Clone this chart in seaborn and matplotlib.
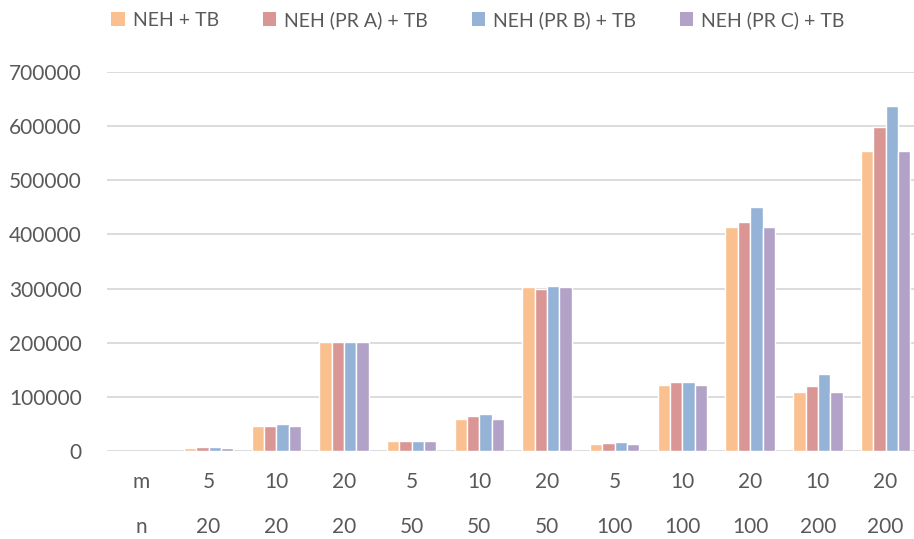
import matplotlib
matplotlib.use("Agg")
import matplotlib.pyplot as plt
from matplotlib.patches import Patch
import seaborn as sns
import pandas as pd
import numpy as np

# Instance sizes (machines m, jobs n); the first column holds the row headers
m_labels = ["m", "5", "10", "20", "5", "10", "20", "5", "10", "20", "10", "20"]
n_labels = ["n", "20", "20", "20", "50", "50", "50", "100", "100", "100", "200", "200"]

series_names = ["NEH + TB", "NEH (PR A) + TB", "NEH (PR B) + TB", "NEH (PR C) + TB"]

neh_tb    = [np.nan, 6100, 45400, 200800, 17800, 59500, 302600, 12900, 121500, 414500, 109200, 553500]
neh_pra   = [np.nan, 6700, 46000, 200500, 17800, 65000, 299500, 14700, 127000, 422500, 120900, 598500]
neh_prb   = [np.nan, 6700, 50300, 200600, 18400, 67500, 304400, 16600, 128200, 450000, 141700, 636700]
neh_prc   = [np.nan, 6100, 45400, 200800, 17800, 59500, 302600, 12900, 121500, 414500, 109200, 553500]

colors = ["#FAC090", "#D99694", "#95B3D7", "#B3A2C7"]
text_color = "#595959"
grid_color = "#D9D9D9"

categories = [f"{m}|{n}" for m, n in zip(m_labels, n_labels)]
rows = []
for name, vals in zip(series_names, [neh_tb, neh_pra, neh_prb, neh_prc]):
    for cat, v in zip(categories, vals):
        rows.append({"instance": cat, "algorithm": name, "value": v})
df = pd.DataFrame(rows).dropna()

sns.set_theme(style="white")
plt.rcParams["font.family"] = ["Lato", "DejaVu Sans"]

fig = plt.figure(figsize=(9.14, 5.39), dpi=100)
ax = fig.add_axes([107 / 914, 1 - 451 / 539, 1 - 107 / 914, (451 - 72) / 539])

sns.barplot(
    data=df, x="instance", y="value", hue="algorithm",
    order=categories, hue_order=series_names, palette=colors,
    width=0.73, edgecolor="white", linewidth=1.0, saturation=1.0,
    legend=False, ax=ax, zorder=3,
)

ax.set_ylim(0, 700000)
ax.set_xlim(-0.5, 11.42)
ax.set_yticks(np.arange(0, 700001, 100000))
ax.set_yticklabels([f"{int(v)}" for v in np.arange(0, 700001, 100000)])
ax.yaxis.grid(True, color=grid_color, linewidth=1.3, zorder=0)
ax.set_axisbelow(True)
for s in ax.spines.values():
    s.set_visible(False)

ax.set_xticks(range(len(categories)))
ax.set_xticklabels([f"{m}\n{n}" for m, n in zip(m_labels, n_labels)],
                   linespacing=2.6)
ax.tick_params(axis="x", length=0, pad=15, labelsize=15, labelcolor=text_color)
ax.tick_params(axis="y", length=0, pad=18, labelsize=15, labelcolor=text_color)
ax.set_xlabel("")
ax.set_ylabel("")

handles = [Patch(facecolor=c, edgecolor="none") for c in colors]
fig.legend(handles, series_names, loc="center", bbox_to_anchor=(0.523, 1 - 20 / 539),
           ncol=4, frameon=False, fontsize=14, labelcolor=text_color,
           handlelength=0.68, handleheight=0.68, handletextpad=0.42, columnspacing=2.25)

fig.savefig("out.png", dpi=100)
